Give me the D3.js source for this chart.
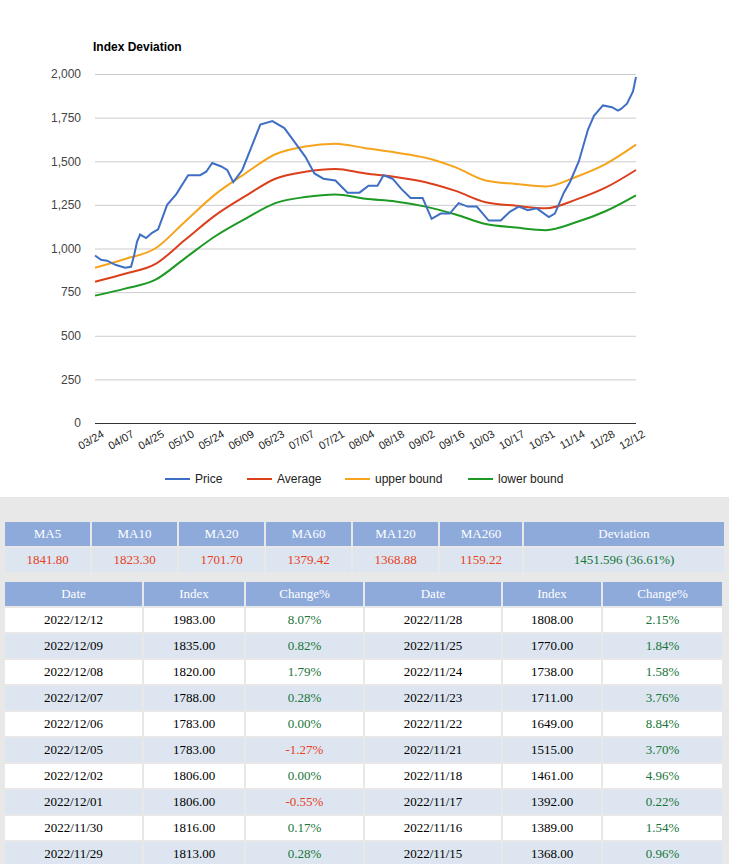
<!DOCTYPE html>
<html>
<head>
<meta charset="utf-8">
<script src="https://d3js.org/d3.v7.min.js"></script>
<style>
  body { margin:0; background:#e8e8e8; font-family: Arial, "Liberation Sans", sans-serif; }
  #chart { position:absolute; left:0; top:0; width:729px; height:497px; background:#fff; }
  table { position:absolute; border-collapse:separate; border-spacing:2px; font-family:"Liberation Serif", "Times New Roman", serif; font-size:13px; text-align:center; }
  td, th { font-weight:normal; height:24px; padding:0; }
  th { background:#8eaadb; color:#fff; }
  .red { color:#e8401c; }
  .green { color:#17753a; }
  .odd td { background:#fff; }
  .even td { background:#dde6f0; }
</style>
</head>
<body>
<div id="chart"></div>
<script>
// ---- chart data ----
var tickLabels = ["03/24","04/07","04/25","05/10","05/24","06/09","06/23","07/07","07/21","08/04","08/18","09/02","09/16","10/03","10/17","10/31","11/14","11/28","12/12"];
// trading-day index (10 days per label step) and price
var priceDay = [0,2,4,7,10,12,13,14,15,17,19,21,24,27,31,35,37,39,42,44,46,49,52,55,59,63,66,70,73,76,80,84,88,91,94,96,99,102,105,109,112,115,118,121,124,127,131,135,138,141,144,147,151,153,156,158,161,164,166,169,172,174,175,177,179,180];
var priceVal = [960,935,930,905,890,895,960,1040,1080,1060,1090,1110,1250,1310,1420,1420,1440,1490,1470,1450,1380,1450,1580,1710,1730,1690,1620,1525,1430,1400,1390,1320,1320,1360,1360,1420,1400,1340,1290,1290,1170,1200,1200,1260,1240,1240,1160,1160,1210,1240,1220,1230,1180,1200,1320,1380,1500,1680,1760,1820,1810,1790,1800,1830,1900,1983];
var bandDay = [0,10,20,30,40,50,60,70,80,90,100,110,120,130,140,150,160,170,180];
var averageVal = [810,855,910,1050,1190,1300,1400,1440,1455,1430,1410,1380,1330,1265,1245,1230,1280,1350,1450];
var upperVal = [890,940,1000,1155,1310,1430,1540,1585,1600,1575,1550,1520,1465,1390,1370,1355,1410,1485,1595];
var lowerVal = [730,770,820,945,1070,1170,1260,1295,1310,1285,1270,1240,1195,1140,1120,1105,1150,1215,1305];
var yTicks = [0,250,500,750,1000,1250,1500,1750,2000];

// ---- table data ----
var maNames = ["MA5","MA10","MA20","MA60","MA120","MA260","Deviation"];
var maValues = ["1841.80","1823.30","1701.70","1379.42","1368.88","1159.22","1451.596 (36.61%)"];
var leftDates = ["2022/12/12","2022/12/09","2022/12/08","2022/12/07","2022/12/06","2022/12/05","2022/12/02","2022/12/01","2022/11/30","2022/11/29"];
var leftIndex = ["1983.00","1835.00","1820.00","1788.00","1783.00","1783.00","1806.00","1806.00","1816.00","1813.00"];
var leftChange = [8.07,0.82,1.79,0.28,0.00,-1.27,0.00,-0.55,0.17,0.28];
var rightDates = ["2022/11/28","2022/11/25","2022/11/24","2022/11/23","2022/11/22","2022/11/21","2022/11/18","2022/11/17","2022/11/16","2022/11/15"];
var rightIndex = ["1808.00","1770.00","1738.00","1711.00","1649.00","1515.00","1461.00","1392.00","1389.00","1368.00"];
var rightChange = [2.15,1.84,1.58,3.76,8.84,3.70,4.96,0.22,1.54,0.96];

var svg = d3.select("#chart").append("svg").attr("width",729).attr("height",497);
var x = d3.scaleLinear().domain([0,180]).range([95,636]);
var y = d3.scaleLinear().domain([0,2000]).range([423,74]);

svg.append("text").attr("x",93).attr("y",51).attr("font-size",12).attr("font-weight","bold").text("Index Deviation");

var gy = svg.append("g").attr("transform","translate(95,0)")
  .call(d3.axisLeft(y).tickValues(yTicks).tickSize(-541).tickFormat(d3.format(",")));
gy.select(".domain").remove();
gy.selectAll(".tick line").attr("stroke","#ccc");
gy.selectAll(".tick text").attr("x",-14).attr("fill","#444").attr("font-size",12).attr("font-family","Arial");
gy.selectAll(".tick").filter(function(d){return d===0;}).select("line").attr("stroke","#333");

var gx = svg.append("g").attr("transform","translate(0,423)")
  .call(d3.axisBottom(x).tickValues(bandDay).tickSize(0).tickFormat(function(d,i){return tickLabels[i];}));
gx.select(".domain").remove();
gx.selectAll(".tick text").attr("fill","#222").attr("font-size",11).attr("font-family","Arial")
  .attr("text-anchor","end").attr("transform","translate(4,4) rotate(-30)").attr("dy","0.7em");

function draw(days, vals, color) {
  var line = d3.line().x(function(d,i){return x(days[i]);}).y(function(d){return y(d);})
    .curve(days.length > 30 ? d3.curveLinear : d3.curveMonotoneX);
  svg.append("path").datum(vals).attr("d",line).attr("fill","none").attr("stroke",color).attr("stroke-width",2);
}
draw(bandDay, lowerVal, "#1c9a24");
draw(bandDay, upperVal, "#f5a41c");
draw(bandDay, averageVal, "#dc3f1c");
draw(priceDay, priceVal, "#3f6fc4");

var legend = [["Price","#3f6fc4",165],["Average","#dc3f1c",247],["upper bound","#f5a41c",345],["lower bound","#1c9a24",468]];
legend.forEach(function(l){
  svg.append("line").attr("x1",l[2]).attr("x2",l[2]+25).attr("y1",479).attr("y2",479).attr("stroke",l[1]).attr("stroke-width",2);
  svg.append("text").attr("x",l[2]+30).attr("y",483).attr("font-size",12).attr("fill","#222").text(l[0]);
});

// ---- MA table ----
var t1 = d3.select("body").append("table").style("left","3px").style("top","520px");
var maW = [85,85,85,85,85,82,200];
t1.append("tr").selectAll("th").data(maNames).enter().append("th")
  .style("width",function(d,i){return maW[i]+"px";}).text(function(d){return d;});
t1.append("tr").attr("class","even").selectAll("td").data(maValues).enter().append("td")
  .attr("class",function(d,i){return i<6?"red":"green";}).text(function(d){return d;});

// ---- history table ----
var t2 = d3.select("body").append("table").style("left","3px").style("top","580px");
var hW = [137,100,117,136,98,119];
t2.append("tr").selectAll("th").data(["Date","Index","Change%","Date","Index","Change%"]).enter().append("th")
  .style("width",function(d,i){return hW[i]+"px";}).text(function(d){return d;});
leftDates.forEach(function(d,i){
  var row = t2.append("tr").attr("class", i%2 ? "even" : "odd");
  [[leftDates[i],""],[leftIndex[i],""],[leftChange[i].toFixed(2)+"%", leftChange[i]<0?"red":"green"],
   [rightDates[i],""],[rightIndex[i],""],[rightChange[i].toFixed(2)+"%", rightChange[i]<0?"red":"green"]]
  .forEach(function(c){ row.append("td").attr("class",c[1]).text(c[0]); });
});
</script>
</body>
</html>
